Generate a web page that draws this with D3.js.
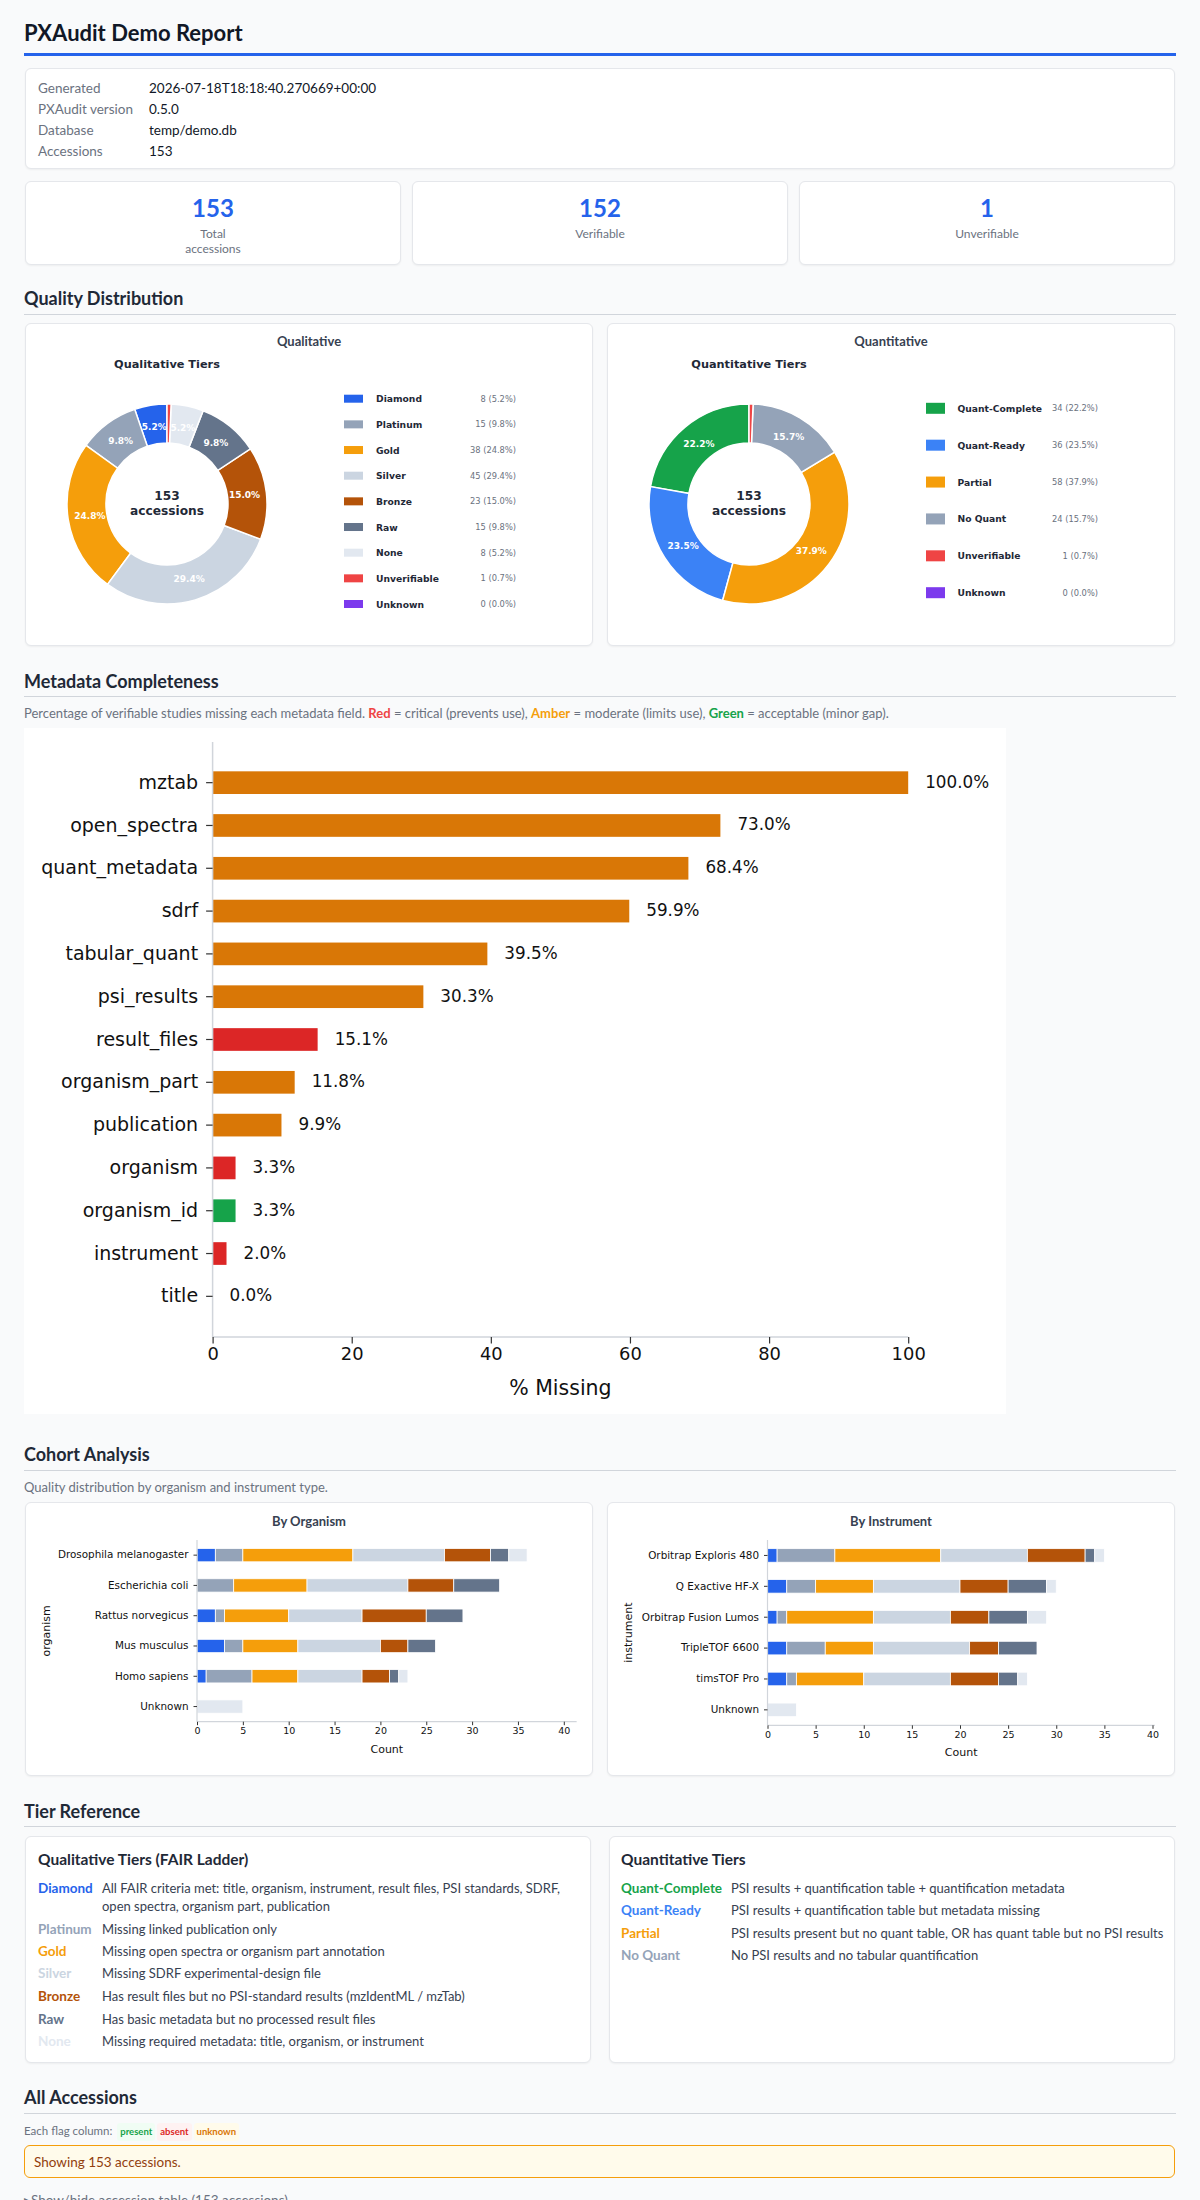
<!DOCTYPE html>
<html>
<head>
<meta charset="utf-8">
<script src="https://cdn.jsdelivr.net/npm/d3@7"></script>
<style>
  body { margin: 0; background: #f9fafb; font-family: Lato, "Noto Sans", sans-serif; color: #1f2937; }
  #page { position: relative; width: 1200px; height: 2200px; overflow: hidden; }
  .t { position: absolute; white-space: nowrap; }
  .card { position: absolute; box-sizing: border-box; background: #fff; border: 1px solid #e5e7eb;
          border-radius: 6px; box-shadow: 0 1px 2px rgba(0,0,0,0.05); }
  .h2 { position: absolute; left: 24px; font-weight: 700; font-size: 18px; line-height: 22px; color: #1f2937; }
  .rule { position: absolute; left: 24px; width: 1152px; height: 1px; background: #d1d5db; }
  .desc { position: absolute; left: 24px; font-size: 13px; line-height: 16px; color: #6b7280; white-space: nowrap; }
  .mlab { position: absolute; left: 38px; font-size: 13.5px; line-height: 16px; color: #6b7280; }
  .mval { position: absolute; left: 149px; font-size: 13.5px; line-height: 16px; color: #111827; }
  .num { position: absolute; width: 100%; text-align: center; font-size: 24px; font-weight: 700; color: #2563eb; line-height: 28px; }
  .lab { position: absolute; width: 100%; text-align: center; font-size: 12px; color: #6b7280; line-height: 15px; }
  .ptitle { position: absolute; width: 100%; text-align: center; font-size: 13px; font-weight: 700; color: #374151; line-height: 16px; }
  .tname { position: absolute; font-size: 13.5px; font-weight: 700; line-height: 16px; }
  .tdesc { position: absolute; font-size: 13px; color: #374151; line-height: 18px; white-space: nowrap; }
  .badge { display: inline-block; font-size: 9.5px; font-weight: 700; padding: 1px 3px; border-radius: 3px; margin-left: 2px; }
  svg { position: absolute; left: 0; top: 0; }
</style>
</head>
<body>
<div id="page">
  <div class="t" style="left:24px;top:20px;font-size:22px;font-weight:700;line-height:26px;color:#111827;">PXAudit Demo Report</div>
  <div style="position:absolute;left:24px;top:53px;width:1152px;height:3px;background:#2563eb;"></div>

  <div class="card" style="left:25px;top:68px;width:1150px;height:101px;"></div>
  <div class="mlab" style="top:80px;">Generated</div><div class="mval" style="top:80px;">2026-07-18T18:18:40.270669+00:00</div>
  <div class="mlab" style="top:101px;">PXAudit version</div><div class="mval" style="top:101px;">0.5.0</div>
  <div class="mlab" style="top:122px;">Database</div><div class="mval" style="top:122px;">temp/demo.db</div>
  <div class="mlab" style="top:143px;">Accessions</div><div class="mval" style="top:143px;">153</div>

  <div class="card" style="left:25px;top:181px;width:376px;height:84px;">
    <div class="num" style="top:12px;">153</div>
    <div class="lab" style="top:44px;">Total<br>accessions</div>
  </div>
  <div class="card" style="left:412px;top:181px;width:376px;height:84px;">
    <div class="num" style="top:12px;">152</div>
    <div class="lab" style="top:44px;">Verifiable</div>
  </div>
  <div class="card" style="left:799px;top:181px;width:376px;height:84px;">
    <div class="num" style="top:12px;">1</div>
    <div class="lab" style="top:44px;">Unverifiable</div>
  </div>

  <div class="h2" style="top:287px;">Quality Distribution</div>
  <div class="rule" style="top:314px;"></div>
  <div class="card" style="left:25px;top:323px;width:568px;height:323px;">
    <div class="ptitle" style="top:9px;">Qualitative</div>
  </div>
  <div class="card" style="left:607px;top:323px;width:568px;height:323px;">
    <div class="ptitle" style="top:9px;">Quantitative</div>
  </div>

  <div class="h2" style="top:670px;">Metadata Completeness</div>
  <div class="rule" style="top:696px;"></div>
  <div class="desc" style="top:705px;">Percentage of verifiable studies missing each metadata field.
    <b style="color:#ef4444">Red</b> = critical (prevents use), <b style="color:#f59e0b">Amber</b> = moderate (limits use),
    <b style="color:#16a34a">Green</b> = acceptable (minor gap).</div>
  <div style="position:absolute;left:24px;top:728px;width:982px;height:686px;background:#fff;"></div>

  <div class="h2" style="top:1443px;">Cohort Analysis</div>
  <div class="rule" style="top:1470px;"></div>
  <div class="desc" style="top:1479px;">Quality distribution by organism and instrument type.</div>
  <div class="card" style="left:25px;top:1502px;width:568px;height:274px;">
    <div class="ptitle" style="top:10px;">By Organism</div>
  </div>
  <div class="card" style="left:607px;top:1502px;width:568px;height:274px;">
    <div class="ptitle" style="top:10px;">By Instrument</div>
  </div>

  <div class="h2" style="top:1800px;">Tier Reference</div>
  <div class="rule" style="top:1826px;"></div>
  <div class="card" style="left:25px;top:1836px;width:566px;height:227px;"></div>
  <div class="card" style="left:609px;top:1836px;width:566px;height:227px;"></div>
  <div id="tierref"></div>

  <div class="h2" style="top:2086px;">All Accessions</div>
  <div class="rule" style="top:2113px;"></div>
  <div class="desc" style="top:2123px;font-size:11.5px;">Each flag column:
    <span class="badge" style="background:#f0fdf4;color:#16a34a;">present</span><span class="badge" style="background:#fef2f2;color:#dc2626;">absent</span><span class="badge" style="background:#fffbeb;color:#d97706;">unknown</span></div>
  <div style="position:absolute;box-sizing:border-box;left:24px;top:2145px;width:1151px;height:33px;background:#fffbeb;border:1px solid #f59e0b;border-radius:6px;"></div>
  <div class="t" style="left:34px;top:2154px;font-size:13.5px;line-height:16px;color:#92400e;">Showing 153 accessions.</div>
  <div class="t" style="left:24px;top:2192px;font-size:13.5px;line-height:16px;color:#6b7280;">▸Show/hide accession table (153 accessions)</div>

  <svg id="chart" width="1200" height="2200"></svg>
</div>

<script>
// ---- data ----
const qualTiers = ["Diamond", "Platinum", "Gold", "Silver", "Bronze", "Raw", "None", "Unverifiable", "Unknown"];
const qualCounts = [8, 15, 38, 45, 23, 15, 8, 1, 0];
const qualColors = ["#2563eb", "#94a3b8", "#f59e0b", "#cbd5e1", "#b45309", "#64748b", "#e2e8f0", "#ef4444", "#7c3aed"];

const quantTiers = ["Quant-Complete", "Quant-Ready", "Partial", "No Quant", "Unverifiable", "Unknown"];
const quantCounts = [34, 36, 58, 24, 1, 0];
const quantColors = ["#16a34a", "#3b82f6", "#f59e0b", "#94a3b8", "#ef4444", "#7c3aed"];

const metaFields = ["mztab", "open_spectra", "quant_metadata", "sdrf", "tabular_quant", "psi_results",
  "result_files", "organism_part", "publication", "organism", "organism_id", "instrument", "title"];
const metaMissing = [100.0, 73.0, 68.4, 59.9, 39.5, 30.3, 15.1, 11.8, 9.9, 3.3, 3.3, 2.0, 0.0];
const metaSeverity = ["amber", "amber", "amber", "amber", "amber", "amber", "red", "amber", "amber", "red", "green", "red", "red"];
const metaTicks = [0, 20, 40, 60, 80, 100];
const severityColors = { red: "#dc2626", amber: "#d97706", green: "#16a34a" };

const cohortTiers = ["Diamond", "Platinum", "Gold", "Silver", "Bronze", "Raw", "None"];
const organisms = ["Drosophila melanogaster", "Escherichia coli", "Rattus norvegicus", "Mus musculus", "Homo sapiens", "Unknown"];
const organismCounts = [
  [2, 3, 12, 10, 5, 2, 2],
  [0, 4, 8, 11, 5, 5, 0],
  [2, 1, 7, 8, 7, 4, 0],
  [3, 2, 6, 9, 3, 3, 0],
  [1, 5, 5, 7, 3, 1, 1],
  [0, 0, 0, 0, 0, 0, 5]
];
const instruments = ["Orbitrap Exploris 480", "Q Exactive HF-X", "Orbitrap Fusion Lumos", "TripleTOF 6600", "timsTOF Pro", "Unknown"];
const instrumentCounts = [
  [1, 6, 11, 9, 6, 1, 1],
  [2, 3, 6, 9, 5, 4, 1],
  [1, 1, 9, 8, 4, 4, 2],
  [2, 4, 5, 10, 3, 4, 0],
  [2, 1, 7, 9, 5, 2, 1],
  [0, 0, 0, 0, 0, 0, 3]
];
const cohortTicks = [0, 5, 10, 15, 20, 25, 30, 35, 40];

const qualRef = [
  ["Diamond", "All FAIR criteria met: title, organism, instrument, result files, PSI standards, SDRF,<br>open spectra, organism part, publication"],
  ["Platinum", "Missing linked publication only"],
  ["Gold", "Missing open spectra or organism part annotation"],
  ["Silver", "Missing SDRF experimental-design file"],
  ["Bronze", "Has result files but no PSI-standard results (mzIdentML / mzTab)"],
  ["Raw", "Has basic metadata but no processed result files"],
  ["None", "Missing required metadata: title, organism, or instrument"]
];
const quantRef = [
  ["Quant-Complete", "PSI results + quantification table + quantification metadata"],
  ["Quant-Ready", "PSI results + quantification table but metadata missing"],
  ["Partial", "PSI results present but no quant table, OR has quant table but no PSI results"],
  ["No Quant", "No PSI results and no tabular quantification"]
];

const svg = d3.select("#chart");
const mpl = "'DejaVu Sans', sans-serif";

// ---- donuts ----
function donut(cfg) {
  const total = d3.sum(cfg.counts);
  const items = cfg.names.map((n, i) => ({ name: n, count: cfg.counts[i], color: cfg.colors[i] }));
  const pie = d3.pie().value(d => d.count).sort(null).startAngle(0).endAngle(-2 * Math.PI);
  const arcs = pie(items.filter(d => d.count > 0));
  const arc = d3.arc().innerRadius(61).outerRadius(100);
  const labelArc = d3.arc().innerRadius(78).outerRadius(78);

  svg.append("text").attr("x", cfg.cx).attr("y", 364).attr("text-anchor", "middle")
    .attr("dominant-baseline", "central").attr("font-family", mpl).attr("font-weight", "bold")
    .attr("font-size", 11.3).attr("fill", "#1f2937").text(cfg.title);

  const g = svg.append("g").attr("transform", `translate(${cfg.cx},${cfg.cy})`);
  g.selectAll("path").data(arcs).join("path")
    .attr("d", arc).attr("fill", d => d.data.color).attr("stroke", "#fff").attr("stroke-width", 1.5);
  g.selectAll("text.pct").data(arcs.filter(d => d.data.count / total > 0.02)).join("text")
    .attr("class", "pct")
    .attr("transform", d => `translate(${labelArc.centroid(d)})`)
    .attr("text-anchor", "middle").attr("dominant-baseline", "central")
    .attr("font-family", mpl).attr("font-weight", "bold").attr("font-size", 9).attr("fill", "#fff")
    .text(d => (d.data.count / total * 100).toFixed(1) + "%");
  g.append("text").attr("y", -8).attr("text-anchor", "middle").attr("dominant-baseline", "central")
    .attr("font-family", mpl).attr("font-weight", "bold").attr("font-size", 12.2).attr("fill", "#1f2937").text(total);
  g.append("text").attr("y", 7).attr("text-anchor", "middle").attr("dominant-baseline", "central")
    .attr("font-family", mpl).attr("font-weight", "bold").attr("font-size", 12.2).attr("fill", "#1f2937").text("accessions");

  const ly = d3.scalePoint().domain(cfg.names).range([cfg.legTop, cfg.legBottom]);
  const leg = svg.append("g").selectAll("g").data(items).join("g")
    .attr("transform", d => `translate(0,${ly(d.name)})`);
  leg.append("rect").attr("x", cfg.swX).attr("y", -cfg.swH / 2).attr("width", 19).attr("height", cfg.swH)
    .attr("fill", d => d.color);
  leg.append("text").attr("x", cfg.labX).attr("dominant-baseline", "central")
    .attr("font-family", mpl).attr("font-weight", "bold").attr("font-size", 9.2).attr("fill", "#1f2937")
    .text(d => d.name);
  leg.append("text").attr("x", cfg.valX).attr("text-anchor", "end").attr("dominant-baseline", "central")
    .attr("font-family", mpl).attr("font-size", 8.3).attr("fill", "#6b7280")
    .text(d => `${d.count} (${(d.count / total * 100).toFixed(1)}%)`);
}

donut({ title: "Qualitative Tiers", names: qualTiers, counts: qualCounts, colors: qualColors,
  cx: 167, cy: 504, legTop: 398.7, legBottom: 604, swX: 344, swH: 8, labX: 376, valX: 516 });
donut({ title: "Quantitative Tiers", names: quantTiers, counts: quantCounts, colors: quantColors,
  cx: 749, cy: 504, legTop: 408.3, legBottom: 592.7, swX: 926, swH: 11, labX: 957.5, valX: 1098 });

// ---- metadata completeness ----
(function () {
  const x = d3.scaleLinear().domain([0, 100]).range([212.6, 908.2]);
  const y = d3.scaleBand().domain(metaFields).range([742, 1337]).paddingInner(0.47).paddingOuter(0.685);
  const g = svg.append("g");
  g.selectAll("rect").data(metaFields).join("rect")
    .attr("x", x(0)).attr("y", d => y(d)).attr("height", y.bandwidth())
    .attr("width", (d, i) => x(metaMissing[i]) - x(0))
    .attr("fill", (d, i) => severityColors[metaSeverity[i]]);
  g.selectAll("text.val").data(metaFields).join("text").attr("class", "val")
    .attr("x", (d, i) => x(metaMissing[i]) + 17).attr("y", d => y(d) + y.bandwidth() / 2 - 1)
    .attr("dominant-baseline", "central").attr("font-family", mpl).attr("font-size", 16.8).attr("fill", "#111")
    .text((d, i) => metaMissing[i].toFixed(1) + "%");

  const xa = g.append("g").attr("transform", "translate(0,1337)")
    .call(d3.axisBottom(x).tickValues(metaTicks).tickSize(6.5).tickPadding(4));
  const ya = g.append("g").attr("transform", "translate(212.6,0)")
    .call(d3.axisLeft(y).tickSize(6.5).tickPadding(8));
  [xa, ya].forEach(a => {
    a.select(".domain").attr("stroke", "#d1d5db").attr("stroke-width", 1.5);
    a.selectAll(".tick line").attr("stroke", "#333").attr("stroke-width", 1.2);
    a.selectAll("text").attr("font-family", mpl).attr("fill", "#111");
  });
  xa.select(".domain").attr("d", `M${x(0)},0H${x(100)}`);
  ya.select(".domain").attr("d", "M0,742V1337");
  xa.selectAll("text").attr("font-size", 17.9);
  ya.selectAll("text").attr("font-size", 19).attr("dy", "0.32em");
  g.append("text").attr("x", (x(0) + x(100)) / 2).attr("y", 1388).attr("text-anchor", "middle")
    .attr("dominant-baseline", "central").attr("font-family", mpl).attr("font-size", 20.5).attr("fill", "#111")
    .text("% Missing");
})();

// ---- cohort stacked bars ----
function cohort(cfg) {
  const totals = cfg.counts.map(r => d3.sum(r));
  const x = d3.scaleLinear().domain([0, d3.max(totals) * 1.15]).range([cfg.x0, cfg.x0 + cfg.pxPerUnit * d3.max(totals) * 1.15]);
  const y = d3.scaleBand().domain(cfg.names).range([1540, cfg.yBottom]).paddingInner(0.56).paddingOuter(0.28);
  const g = svg.append("g");
  cfg.names.forEach((n, ri) => {
    let acc = 0;
    cfg.counts[ri].forEach((v, ti) => {
      if (v > 0) {
        g.append("rect").attr("x", x(acc)).attr("y", y(n)).attr("height", y.bandwidth())
          .attr("width", x(acc + v) - x(acc)).attr("fill", qualColors[ti])
          .attr("stroke", "#fff").attr("stroke-width", 0.8);
      }
      acc += v;
    });
  });
  const xa = g.append("g").attr("transform", `translate(0,${cfg.yBottom})`)
    .call(d3.axisBottom(x).tickValues(cohortTicks).tickSize(3.5).tickPadding(2));
  const ya = g.append("g").attr("transform", `translate(${cfg.x0},0)`)
    .call(d3.axisLeft(y).tickSize(3.5).tickPadding(5));
  [xa, ya].forEach(a => {
    a.select(".domain").attr("stroke", "#d1d5db").attr("stroke-width", 1.2);
    a.selectAll(".tick line").attr("stroke", "#333");
    a.selectAll("text").attr("font-family", mpl).attr("fill", "#111");
  });
  xa.select(".domain").attr("d", `M${x.range()[0]},0H${x.range()[1]}`);
  ya.select(".domain").attr("d", `M0,1540V${cfg.yBottom}`);
  xa.selectAll("text").attr("font-size", 9.5);
  ya.selectAll("text").attr("font-size", 10.4).attr("dy", "0.32em");
  g.append("text").attr("x", (x(0) + x.range()[1]) / 2).attr("y", cfg.yBottom + 27.5).attr("text-anchor", "middle")
    .attr("dominant-baseline", "central").attr("font-family", mpl).attr("font-size", 11).attr("fill", "#111").text("Count");
  g.append("text").attr("transform", `translate(${cfg.ylabX},${(1540 + cfg.yBottom) / 2}) rotate(-90)`)
    .attr("text-anchor", "middle").attr("dominant-baseline", "central")
    .attr("font-family", mpl).attr("font-size", 11).attr("fill", "#111").text(cfg.ylabel);
}

cohort({ names: organisms, counts: organismCounts, x0: 197, pxPerUnit: 9.17, yBottom: 1721.7, ylabX: 46, ylabel: "organism" });
cohort({ names: instruments, counts: instrumentCounts, x0: 767.5, pxPerUnit: 9.625, yBottom: 1725.3, ylabX: 628, ylabel: "instrument" });

// ---- tier reference ----
(function () {
  const colorOf = {};
  qualTiers.forEach((t, i) => colorOf["q:" + t] = qualColors[i]);
  quantTiers.forEach((t, i) => colorOf["n:" + t] = quantColors[i]);
  const box = d3.select("#tierref");
  box.append("div").attr("class", "t").style("left", "38px").style("top", "1850px")
    .style("font-size", "15.5px").style("font-weight", "700").style("color", "#1f2937").text("Qualitative Tiers (FAIR Ladder)");
  box.append("div").attr("class", "t").style("left", "621px").style("top", "1850px")
    .style("font-size", "15.5px").style("font-weight", "700").style("color", "#1f2937").text("Quantitative Tiers");
  const qualY = [1887.7, 1928.7, 1950.7, 1973.3, 1995.7, 2018.7, 2040.7];
  qualRef.forEach((r, i) => {
    box.append("div").attr("class", "tname").style("left", "38px").style("top", (qualY[i] - 8) + "px")
      .style("color", colorOf["q:" + r[0]]).text(r[0]);
    box.append("div").attr("class", "tdesc").style("left", "102px").style("top", (qualY[i] - 9) + "px").html(r[1]);
  });
  const quantY = [1887.7, 1909.7, 1932.7, 1954.7];
  quantRef.forEach((r, i) => {
    box.append("div").attr("class", "tname").style("left", "621px").style("top", (quantY[i] - 8) + "px")
      .style("color", colorOf["n:" + r[0]]).text(r[0]);
    box.append("div").attr("class", "tdesc").style("left", "731px").style("top", (quantY[i] - 9) + "px").text(r[1]);
  });
})();
</script>
</body>
</html>
